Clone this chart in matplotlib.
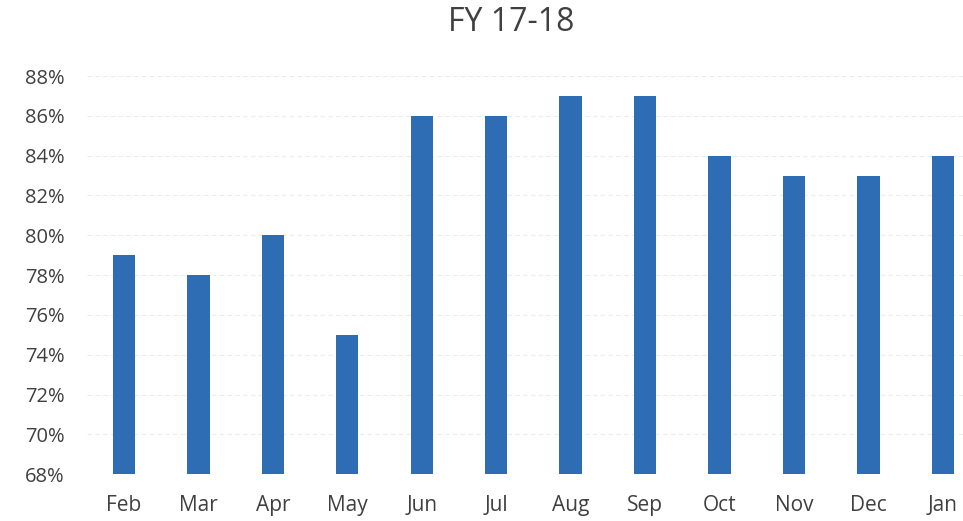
import numpy as np
import matplotlib.pyplot as plt

months = ["Feb", "Mar", "Apr", "May", "Jun", "Jul", "Aug", "Sep", "Oct", "Nov", "Dec", "Jan"]
values = [79, 78, 80, 75, 86, 86, 87, 87, 84, 83, 83, 84]
y_ticks = list(range(68, 89, 2))

BAR_COLOR = "#2e6db4"
TEXT_COLOR = "#404040"

plt.rcParams['font.family'] = ['Open Sans', 'DejaVu Sans']

fig = plt.figure(figsize=(9.63, 5.21), dpi=100)
ax = fig.add_axes([0.090, 0.090, 0.910, 0.764])

x = np.arange(len(months))
base = y_ticks[0]
ax.bar(x, [v - base for v in values], bottom=base, width=0.30, color=BAR_COLOR, zorder=3)

ax.set_xlim(-0.5, 11.27)
ax.set_ylim(68, 88)
ax.set_yticks(y_ticks)
ax.set_yticklabels([f"{t}%" for t in y_ticks])
ax.set_xticks(x)
ax.set_xticklabels(months)

ax.grid(axis="y", color="#ececec", linewidth=0.8, linestyle=(0, (4, 3)), zorder=0)
for s in ax.spines.values():
    s.set_visible(False)
ax.tick_params(axis="x", length=0, pad=15, labelsize=15, labelcolor=TEXT_COLOR)
ax.tick_params(axis="y", length=0, pad=16, labelsize=14.5, labelcolor=TEXT_COLOR)

fig.text(0.531, 0.957, "FY 17-18", ha="center", va="center", fontsize=23, color=TEXT_COLOR)

fig.savefig("out.png", dpi=100)
